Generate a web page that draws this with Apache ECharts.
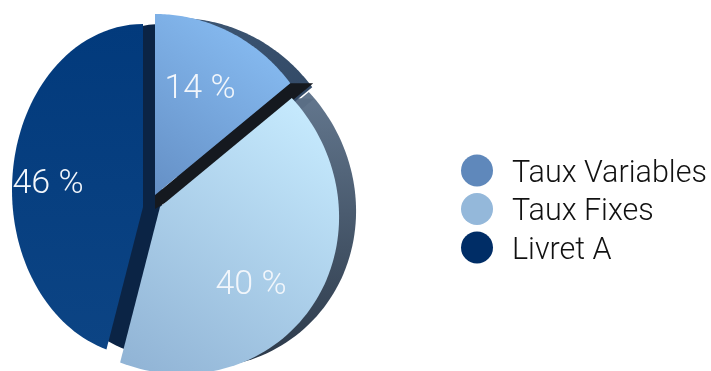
<!DOCTYPE html>
<html><head><meta charset="utf-8">
<style>html,body{margin:0;padding:0;background:#fff}#c{width:711px;height:371px}</style>
<script src="https://cdn.jsdelivr.net/npm/echarts@6/dist/echarts.min.js"></script>
</head><body><div id="c"></div>
<script>
var categories = ['Taux Variables', 'Taux Fixes', 'Livret A'];
var shares = [14, 40, 46];
var legendColors = ['#5f88bb', '#94b8da', '#002d66'];

var RAD = Math.PI / 180;
function startAngle(i) { var s = 0; for (var k = 0; k < i; k++) s += shares[k]; return s * 3.6; }

// layout of each tilted wedge: apex, outline ellipse (cx, cy, a, b, rotation)
var shapes = [
  { apex: [155, 195], e: [155, 195, 172, 181, 0], wall: [23, 0], rim: [22, 4] },
  { apex: [160, 207], e: [172, 207, 172, 162, 45], wall: [22, 1], rim: [17, -6] },
  { apex: [143, 207], e: [143, 190, 131, 166, 0], wall: null, rim: [19, 0] }
];
function rayHit(o, el, deg) {
  var dx = Math.sin(deg * RAD), dy = -Math.cos(deg * RAD);
  var c = Math.cos(el[4] * RAD), s = Math.sin(el[4] * RAD);
  var ox = o[0] - el[0], oy = o[1] - el[1];
  var ux = (ox * c + oy * s) / el[2], uy = (-ox * s + oy * c) / el[3];
  var vx = (dx * c + dy * s) / el[2], vy = (-dx * s + dy * c) / el[3];
  var A = vx * vx + vy * vy, B = 2 * (ux * vx + uy * vy), C = ux * ux + uy * uy - 1;
  var t = (-B + Math.sqrt(B * B - 4 * A * C)) / (2 * A);
  return [o[0] + dx * t, o[1] + dy * t];
}
function wedge(i, value, sh) {
  var o = shapes[i], a0 = startAngle(i), a1 = a0 + value * 3.6, pts = [];
  var apex = [o.apex[0] + sh[0], o.apex[1] + sh[1]];
  var el = [o.e[0] + sh[0], o.e[1] + sh[1], o.e[2], o.e[3], o.e[4]];
  pts.push(apex);
  for (var k = 0; k <= 80; k++) pts.push(rayHit(apex, el, a0 + (a1 - a0) * k / 80));
  return pts;
}
function grad(x0, y0, x1, y1, c0, c1) {
  return new echarts.graphic.LinearGradient(x0, y0, x1, y1, [{ offset: 0, color: c0 }, { offset: 1, color: c1 }]);
}
var faceFill = [
  function () { return grad(0, 1, 1, 0, '#6590c6', '#8cc2f8'); },
  function () { return grad(0, 1, 0.9, 0, '#8fb2d4', '#c8ecff'); },
  function () { return grad(0, 0, 0, 1, '#023a7c', '#0c4484'); }
];
var rimFill = [
  function () { return grad(0, 0, 1, 1, '#3d5673', '#2d4360'); },
  function () { return grad(0, 0, 0, 1, '#63778e', '#2b3848'); },
  function () { return '#0b2445'; }
];
var wallColors = ['#15191f', '#5a6e85', null];
var labelPos = [[200, 89], [251, 285], [48, 184]];

function faceSeries(i, z) {
  return {
    type: 'custom', name: categories[i], coordinateSystem: 'none', z: z, silent: true, animation: false,
    itemStyle: { color: legendColors[i] }, data: [[shares[i]]],
    renderItem: function (p, api) {
      var v = api.value(0);
      return { type: 'group', children: [
        { type: 'polygon', shape: { points: wedge(i, v, [0, 0]) }, style: { fill: faceFill[i]() } },
        { type: 'text', z2: 10, style: { x: labelPos[i][0], y: labelPos[i][1], text: v + ' %', fill: '#f2f6fb',
          font: '300 34px Roboto, "Liberation Sans", Arial, sans-serif', textAlign: 'center', textVerticalAlign: 'middle' } }
      ] };
    }
  };
}
function sideSeries(i, z) {
  return {
    type: 'custom', name: categories[i] + ' (côté)', coordinateSystem: 'none', z: z, silent: true, animation: false,
    data: [[shares[i]]],
    renderItem: function (p, api) {
      var v = api.value(0), o = shapes[i], kids = [];
      kids.push({ type: 'polygon', shape: { points: wedge(i, v, o.rim) }, style: { fill: rimFill[i]() } });
      if (o.wall) {
        var a = o.apex, end = rayHit(a, o.e, startAngle(i) + (i === 0 ? v * 3.6 : 0)), w = o.wall;
        kids.push({ type: 'polygon', shape: { points: [a, end, [end[0] + w[0], end[1] + w[1]], [a[0] + w[0], a[1] + w[1]], [a[0], a[1] + 14]] },
          style: { fill: wallColors[i] } });
      }
      return { type: 'group', children: kids };
    }
  };
}
var chart = echarts.init(document.getElementById('c'), null, { renderer: 'canvas' });
chart.setOption({
  animation: false,
  legend: {
    data: categories, orient: 'vertical', left: 456, top: 146, icon: 'circle',
    itemWidth: 32, itemHeight: 32, itemGap: -0.5, selectedMode: false,
    formatter: function (n) { return '{t|' + n + '}'; },
    textStyle: { color: '#111', rich: { t: { color: '#111', fontSize: 30.5, fontFamily: 'Roboto, "Liberation Sans", Arial, sans-serif', fontWeight: 300,
      height: 32, lineHeight: 32, padding: [7, 0, 0, 14] } } }
  },
  series: [
    sideSeries(2, 1), faceSeries(2, 2),
    sideSeries(1, 3), sideSeries(0, 4),
    faceSeries(0, 5), faceSeries(1, 6)
  ]
});
</script></body></html>
